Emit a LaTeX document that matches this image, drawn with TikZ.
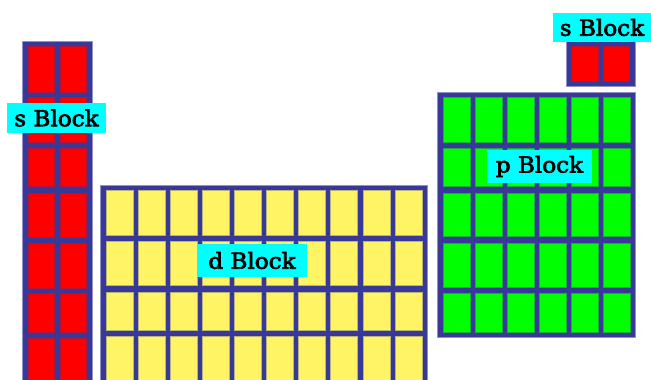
\documentclass[tikz,border=0pt]{standalone}
\usepackage{fontspec}
\setmainfont{DejaVu Serif}[FakeStretch=1.05, FakeBold=3]
\definecolor{frameblue}{RGB}{56,56,152}
\definecolor{cellred}{RGB}{255,0,0}
\definecolor{cellyellow}{RGB}{255,245,100}
\definecolor{cellgreen}{RGB}{0,255,0}
\definecolor{labelcyan}{RGB}{0,255,255}
\tikzset{
  blockframe/.style={fill=frameblue, draw=frameblue!55!white, line width=0.6pt},
  redcell/.style={fill=cellred, draw=frameblue!40!cellred, line width=0.6pt},
  yellowcell/.style={fill=cellyellow, draw=frameblue!35!cellyellow, line width=0.6pt},
  greencell/.style={fill=cellgreen, draw=frameblue!40!cellgreen, line width=0.6pt},
  blocklabel/.style={fill=labelcyan, text=black, inner sep=0pt, font=\fontsize{22}{24}\selectfont}
}
\begin{document}
\begin{tikzpicture}[x=1pt,y=-1pt]
\useasboundingbox (0,0) rectangle (651,380);
\clip (0,0) rectangle (651,380);
% left s block column
\draw[blockframe] (22,41) rectangle (92,395);
\foreach \t/\b in {46/92, 97/142, 148/186, 193/237, 243/288, 293/332, 338/395}{
  \foreach \x in {28,60}{
    \draw[redcell] (\x,\t) rectangle (\x+26.5,\b);
  }
}
% d block
\draw[blockframe] (100,185) rectangle (427,395);
\foreach \t/\b in {190/235, 241/285, 292/330, 336/395}{
  \foreach \i in {0,...,9}{
    \draw[yellowcell] (106+32.1*\i,\t) rectangle (106+32.1*\i+27,\b);
  }
}
% p block
\draw[blockframe] (437,92) rectangle (635,337);
\foreach \t/\b in {97/142, 148/186, 193/236, 243/287, 293/332}{
  \foreach \i in {0,...,5}{
    \draw[greencell] (443+32*\i,\t) rectangle (443+32*\i+27,\b);
  }
}
% top-right s block (helium)
\draw[blockframe] (566,41) rectangle (635,86);
\foreach \x in {571.5,603}{
  \draw[redcell] (\x,46) rectangle (\x+26.5,81);
}
% labels
\node[blocklabel, minimum width=99pt, minimum height=30pt] (slabelleft) at (56.5,118) {s Block};
\node[blocklabel, minimum width=98pt, minimum height=29pt] (slabelright) at (602,27.5) {s Block};
\node[blocklabel, minimum width=105pt, minimum height=33pt] (plabel) at (539.5,166.5) {p Block};
\node[blocklabel, minimum width=110pt, minimum height=33pt] (dlabel) at (252,260.5) {d Block};
\end{tikzpicture}
\end{document}
